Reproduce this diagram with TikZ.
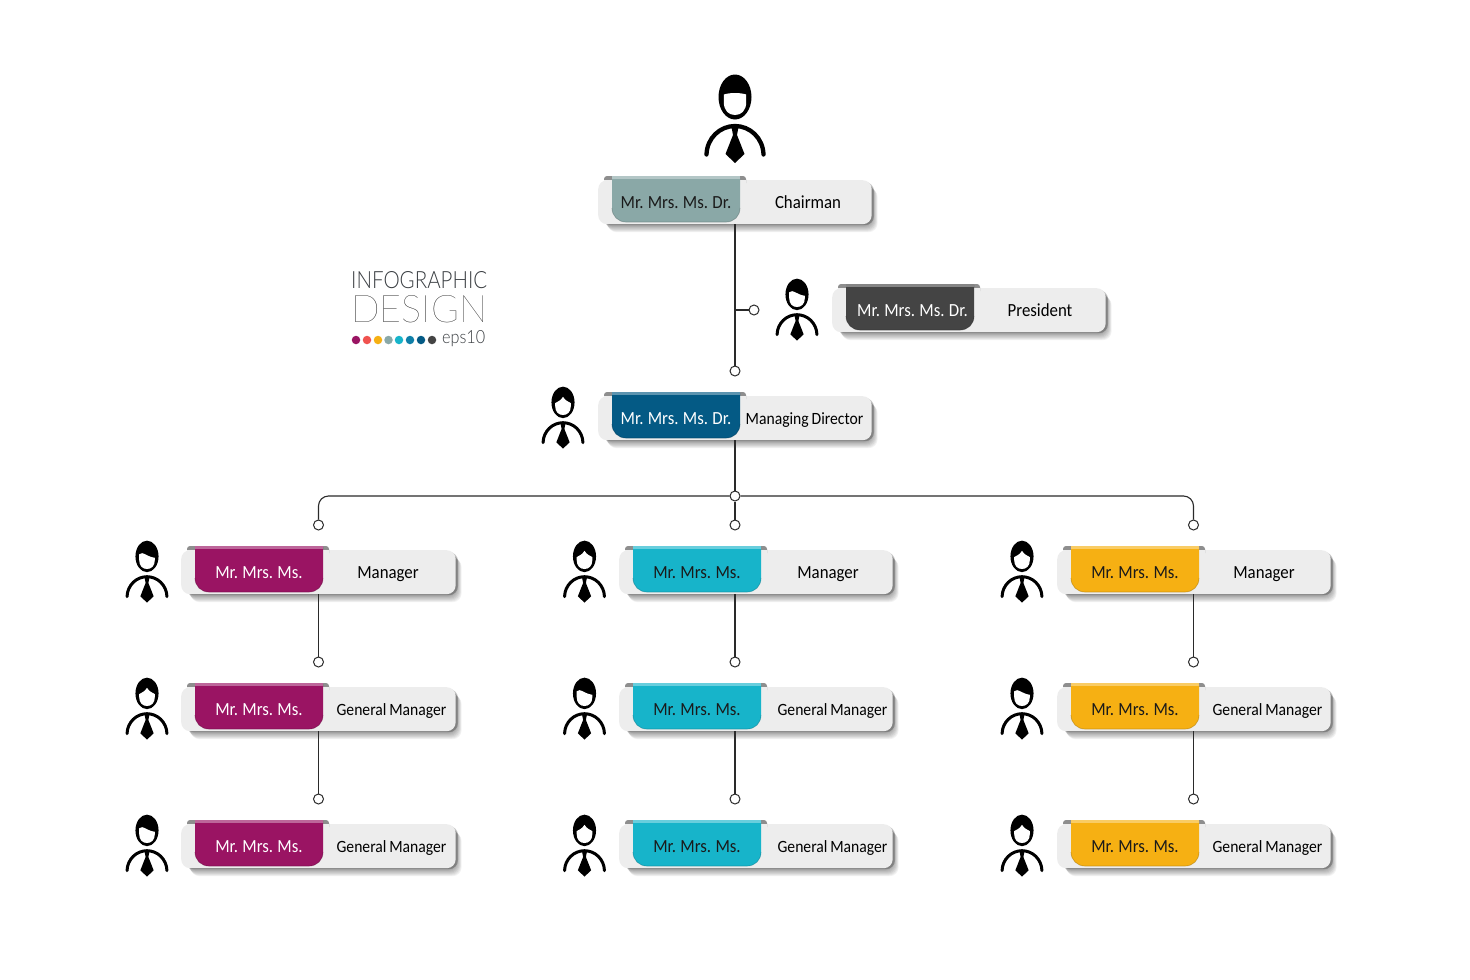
\documentclass[tikz,border=0pt]{standalone}
\usepackage{fontspec}
\usepackage{graphicx}
\setmainfont{Carlito}[FakeStretch=0.91,WordSpace=0.8]
\newfontfamily\logolight{Lato Light}
\newfontfamily\logothin{Lato Hairline}
\usetikzlibrary{calc}
\definecolor{cardfill}{HTML}{EDEDED}
\definecolor{linecol}{HTML}{2A2A2A}
\definecolor{cTeal}{HTML}{8AA8A7}
\definecolor{cDark}{HTML}{444444}
\definecolor{cBlue}{HTML}{045A85}
\definecolor{cMag}{HTML}{9A1463}
\definecolor{cCyan}{HTML}{17B4CA}
\definecolor{cYel}{HTML}{F6B013}
\definecolor{cCoral}{HTML}{F0524F}
\definecolor{cMid}{HTML}{0F7FA8}
\definecolor{cFold}{HTML}{8E8E8E}
\definecolor{logotxt}{HTML}{3A3E42}
\definecolor{inkdark}{HTML}{1A1A1A}
\tikzset{
  cardbox/.style={draw=none,fill=cardfill,rounded corners=9pt,minimum height=44pt,inner sep=0pt,anchor=north west},
  tabtext/.style={font=\fontsize{18.5}{20}\selectfont,inner sep=0pt,anchor=base},
  roletext/.style={font=\fontsize{18.5}{20}\selectfont,text=black,inner sep=0pt,anchor=base},
  smalltext/.style={font=\fontsize{17.2}{20}\selectfont,text=black,inner sep=0pt,anchor=base},
  dotnode/.style={circle,draw=linecol,fill=white,line width=1pt,minimum size=10pt,inner sep=0pt},
  wire/.style={draw=linecol,line width=1.1pt},
  logodot/.style={circle,fill=#1,minimum size=8.5pt,inner sep=0pt},
}
\newcommand{\tabx}{78}
% \orgcard{name}{x}{y}{width}{tab colour}{tab text colour}{tab text}{role style}{role}
\newcommand{\orgcard}[9]{%
  \foreach \i in {1,...,8}{
    \fill[black,opacity=.05,rounded corners=9pt]
      ($(#2,#3)+(\i*0.7+4,\i*0.9+1)$) rectangle ++(#4-5,44);
  }
  \fill[black,opacity=.22,rounded corners=9pt] ($(#2,#3)+(4,2)$) rectangle ++(#4-3,43.2);
  \node[cardbox,minimum width=#4-1.5 pt] (#1) at (#2,#3) {};
  \fill[cFold,rounded corners=3pt] ($(#2,#3)+(6,-4)$) rectangle ++(142,10);
  \fill[cardfill] ($(#2,#3)+(6,0)$) rectangle ++(142,7);
  \fill[#5] ($(#2,#3)+(14,-3)$) -- ++(128,0) -- ++(0,31)
    .. controls +(0,8) and +(8,0) .. ++(-14,14) -- ++(-100,0)
    .. controls +(-8,0) and +(0,8) .. ++(-14,-14) -- cycle;
  \fill[#5!65!white] ($(#2,#3)+(14,-4)$) rectangle ++(128,2.5);
  \draw[#5!70!black,line width=.7pt,opacity=.55]
    ($(#2,#3)+(142,28)$) .. controls +(0,8) and +(8,0) .. ++(-14,14) -- ++(-100,0)
    .. controls +(-8,0) and +(0,8) .. ++(-14,-14);
  \node[tabtext,text=#6] (#1tab) at ($(#2,#3)+(\tabx,28)$) {#7};
  \orgrole{#1}{#2}{#3}{#8}{#9}%
}
\newcommand{\orgrole}[5]{%
  \node[#4] (#1role) at ($(#2,#3)+(\rolex,28)$) {#5};%
}
\newcommand{\rolex}{210}
% \person{x}{top y}{scale}{hair}
\newcommand{\person}[4]{%
  \begin{scope}[shift={(#1,#2)},scale=#3]
    \fill[black] (0,22) ellipse [x radius=16.5,y radius=22.5];
    \fill[white] #4 -- (11.2,27) .. controls (11.2,36) and (6,40) .. (0,40)
       .. controls (-6,40) and (-11.2,36) .. (-11.2,27) -- cycle;
    \draw[black,line width=#3*4.3pt,line cap=round]
       (-28.5,79.5) .. controls (-28,63) and (-15,51) .. (0,51)
       .. controls (15,51) and (28,63) .. (28.5,79.5);
    \fill[black] (-3.5,52) -- (3.5,52) -- (2,60) -- (9.5,79) -- (0,88) -- (-9.5,79) -- (-2,60) -- cycle;
  \end{scope}%
}
\newcommand{\hflat}{(-11.2,19.5) .. controls (-5,17.5) and (5,17.5) .. (11.2,19.5)}
\newcommand{\hswoop}{(-11.2,19) .. controls (-5,14) and (-2,22) .. (11.2,24)}
\newcommand{\hpart}{(-11.2,23) .. controls (-7,21) and (-3,19) .. (0,14) .. controls (3,19) and (7,21) .. (11.2,23)}
\begin{document}
\begin{tikzpicture}[x=1pt,y=-1pt]
\useasboundingbox (0,0) rectangle (1470,980);
\fill[white] (0,0) rectangle (1470,980);

% connector nodes
\node[dotnode] (dPres) at (754,310) {};
\node[dotnode] (dMD) at (735,371) {};
\node[dotnode] (hub) at (735,496) {};
\foreach \n/\x in {A/318.5,B/735,C/1193.5}{
  \node[dotnode] (d\n1) at (\x,525) {};
  \node[dotnode] (d\n2) at (\x,662) {};
  \node[dotnode] (d\n3) at (\x,799) {};
}

% cards
\renewcommand{\rolex}{210}
\orgcard{chair}{598}{180}{275}{cTeal}{inkdark}{Mr. Mrs. Ms. Dr.}{roletext}{Chairman}
\renewcommand{\rolex}{208}
\renewcommand{\tabx}{80.5}
\orgcard{pres}{832}{288}{275}{cDark}{white}{Mr. Mrs. Ms. Dr.}{roletext}{President}
\renewcommand{\tabx}{78}
\renewcommand{\rolex}{206.5}
\orgcard{md}{598}{396}{275}{cBlue}{white}{Mr. Mrs. Ms. Dr.}{smalltext}{Managing Director}

\renewcommand{\rolex}{207}
\orgcard{a1}{181}{550}{276}{cMag}{white}{Mr. Mrs. Ms.}{roletext}{Manager}
\renewcommand{\rolex}{209}
\orgcard{b1}{619}{550}{275}{cCyan}{inkdark}{Mr. Mrs. Ms.}{roletext}{Manager}
\renewcommand{\rolex}{207}
\orgcard{c1}{1057}{550}{275}{cYel}{inkdark}{Mr. Mrs. Ms.}{roletext}{Manager}
\renewcommand{\rolex}{210.5}
\orgcard{a2}{181}{687}{276}{cMag}{white}{Mr. Mrs. Ms.}{smalltext}{General Manager}
\orgcard{a3}{181}{824}{276}{cMag}{white}{Mr. Mrs. Ms.}{smalltext}{General Manager}
\orgcard{c2}{1057}{687}{275}{cYel}{inkdark}{Mr. Mrs. Ms.}{smalltext}{General Manager}
\orgcard{c3}{1057}{824}{275}{cYel}{inkdark}{Mr. Mrs. Ms.}{smalltext}{General Manager}
\renewcommand{\rolex}{213.5}
\orgcard{b2}{619}{687}{275}{cCyan}{inkdark}{Mr. Mrs. Ms.}{smalltext}{General Manager}
\orgcard{b3}{619}{824}{275}{cCyan}{inkdark}{Mr. Mrs. Ms.}{smalltext}{General Manager}

% connectors
\draw[wire] (chair.south -| dMD) -- (dMD);
\draw[wire] (dPres -| dMD) -- (dPres);
\draw[wire] (md.south -| hub) -- (hub);
\draw[wire,rounded corners=10pt] (hub) -| (dA1);
\draw[wire,rounded corners=10pt] (hub) -| (dC1);
\draw[wire] (hub) -- (dB1);
\foreach \n/\m in {A/a,B/b,C/c}{
  \draw[wire] (\m1.south -| d\n2) -- (d\n2);
  \draw[wire] (\m2.south -| d\n3) -- (d\n3);
}

% people
\person{735}{75}{1}{\hflat}
\person{797}{279}{.7}{\hswoop}
\person{563}{387}{.7}{\hpart}
\person{147}{541}{.7}{\hswoop}
\person{147}{678}{.7}{\hpart}
\person{147}{815}{.7}{\hswoop}
\person{584.5}{541}{.7}{\hpart}
\person{584.5}{678}{.7}{\hswoop}
\person{584.5}{815}{.7}{\hpart}
\person{1022}{541}{.7}{\hpart}
\person{1022}{678}{.7}{\hswoop}
\person{1022}{815}{.7}{\hpart}

% logo
\node[anchor=west,inner sep=0pt,text=logotxt] (logoA) at (351,280.5) {\resizebox{136pt}{17pt}{\logolight INFOGRAPHIC}};
\node[anchor=west,inner sep=0pt,text=black] (logoB) at (351,309.5) {\resizebox{136pt}{27pt}{\logothin DESIGN}};
\foreach \x/\c [count=\k] in {356/cMag,367/cCoral,378/cYel,388.5/cTeal,399/cCyan,410/cMid,421/cBlue,432/cDark}{
  \node[logodot=\c] (logodot\k) at (\x,340) {};
}
\node[anchor=west,inner sep=0pt,text=logotxt] (logoC) at (442,339) {\resizebox{43pt}{13pt}{\logolight eps10}};
\end{tikzpicture}
\end{document}
